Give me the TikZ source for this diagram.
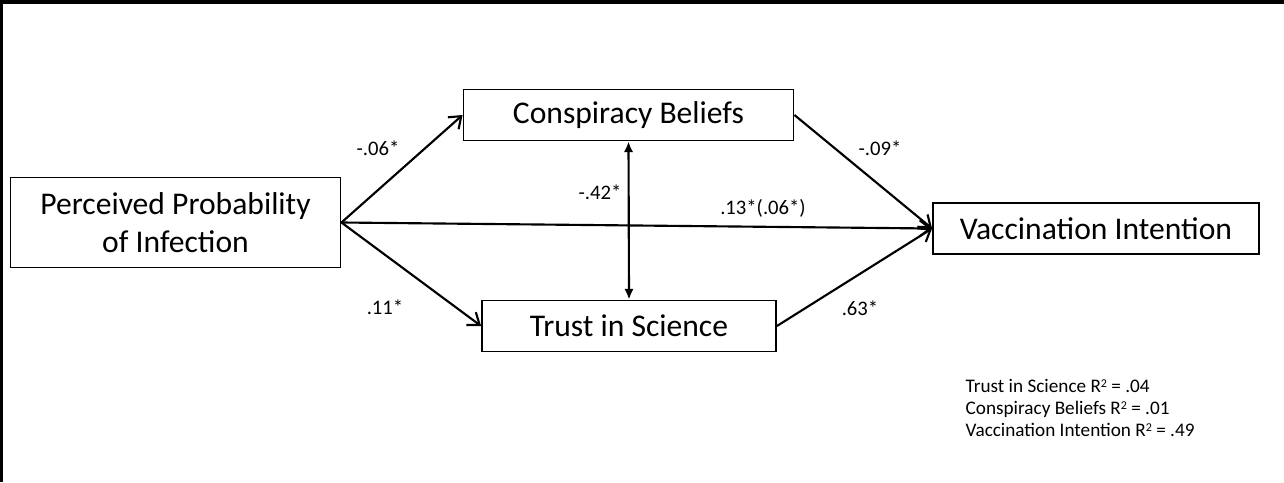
\documentclass[tikz,border=0pt]{standalone}
\usepackage{fontspec}
\setmainfont{Carlito}
\usetikzlibrary{arrows.meta}

\begin{document}
\begin{tikzpicture}[x=0.75pt,y=0.75pt,yscale=-1,xscale=1,
  varbox/.style={draw, line width=1.4pt, inner sep=0pt, align=center, font=\fontsize{23.7}{28.5}\selectfont},
  effect/.style={line width=1.6pt, -{Straight Barb[length=8pt,width=12pt]}},
  corr/.style={line width=1.6pt, {Latex[length=8pt,width=7pt]}-{Latex[length=8pt,width=7pt]}},
  coef/.style={font=\fontsize{15.5}{18}\selectfont}]

\fill[black] (0,0) rectangle (1284,482);
\fill[white] (3,4) rectangle (1284,482);

\node[varbox, minimum width=247.5pt, minimum height=67.5pt] (ppi) at (175.5,222.5) {Perceived Probability\\of Infection};
\node[varbox, minimum width=247.5pt, minimum height=38.25pt] (cb) at (628.5,115) {Conspiracy Beliefs};
\node[varbox, minimum width=220.5pt, minimum height=38.25pt] (tis) at (629,326) {Trust in Science};
\node[varbox, minimum width=244.5pt, minimum height=38.25pt] (vi) at (1096,228.5) {Vaccination Intention};

\draw[effect] (ppi.east) -- (cb.west);
\draw[effect] (ppi.east) -- (tis.west);
\draw[effect] (ppi.east) -- (vi.west);
\draw[effect] (cb.east) -- (vi.west);
\draw[effect] (tis.east) -- (vi.west);
\draw[corr] (cb.south) -- (tis.north);

\node[coef] (a1) at (378,148) {-.06*};
\node[coef] (a2) at (385,307) {.11*};
\node[coef] (r12) at (600,192) {-.42*};
\node[coef] (c1) at (763,208) {.13*(.06*)};
\node[coef] (b1) at (880,148) {-.09*};
\node[coef] (b2) at (860,308) {.63*};

\node[anchor=north west, align=left, font=\fontsize{14.4}{16.5}\selectfont] (rsq) at (961,375)
  {Trust in Science R{\fontsize{9}{9}\selectfont\raisebox{0.9ex}{2}} = .04\\Conspiracy Beliefs R{\fontsize{9}{9}\selectfont\raisebox{0.9ex}{2}} = .01\\Vaccination Intention R{\fontsize{9}{9}\selectfont\raisebox{0.9ex}{2}} = .49};

\end{tikzpicture}
\end{document}
